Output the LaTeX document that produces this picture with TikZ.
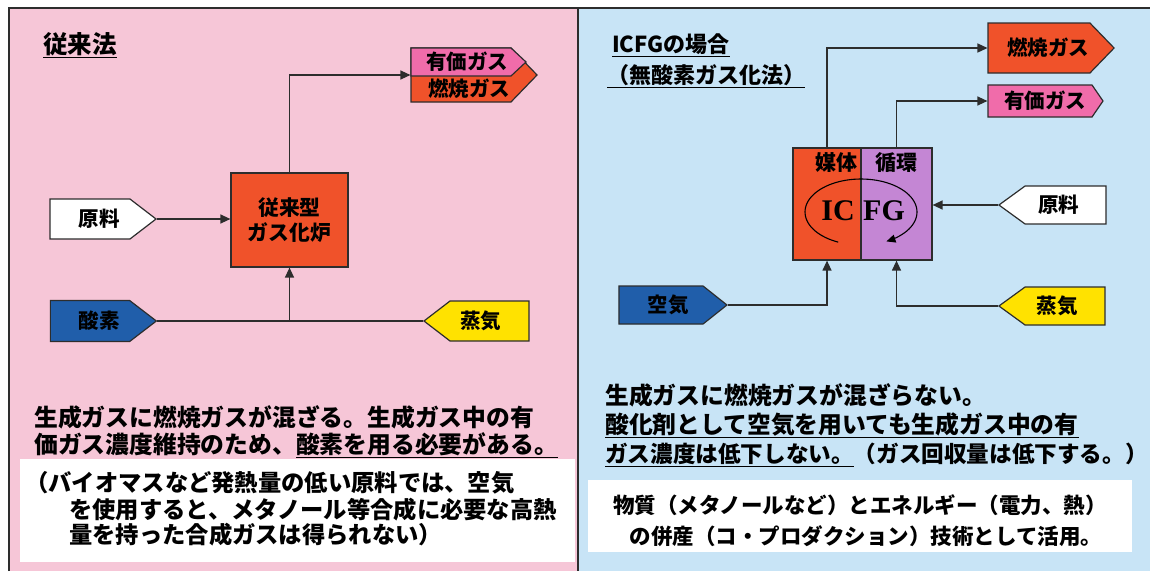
\documentclass[tikz,border=0pt]{standalone}
\usepackage{fontspec}
\newfontfamily\jp{Noto Sans CJK JP}
\newfontfamily\serifb{Liberation Serif}
\usetikzlibrary{shapes.symbols,arrows.meta}
\definecolor{pinkbg}{RGB}{246,198,215}
\definecolor{bluebg}{RGB}{200,228,246}
\definecolor{orng}{RGB}{240,82,42}
\definecolor{pnk}{RGB}{240,108,170}
\definecolor{purp}{RGB}{196,134,212}
\definecolor{blu}{RGB}{32,94,170}
\definecolor{yel}{RGB}{255,226,0}
\definecolor{linec}{RGB}{45,45,45}
\begin{document}
\begin{tikzpicture}[x=1pt,y=-1pt,
  conn/.style={draw=linec, line width=1.3pt},
  arr/.style={conn, -{Triangle[length=10pt,width=9pt]}},
  sig/.style={signal, draw=linec, line width=1.2pt, inner sep=0pt},
  lbl/.style={inner sep=0pt, text=black, font=\jp\bfseries\fontsize{20.5}{24}\selectfont},
  boxn/.style={draw=linec, line width=1.2pt, inner sep=0pt},
  txt/.style={inner sep=0pt, anchor=west, font=\jp\bfseries\fontsize{23.8}{28}\selectfont},
  ttl/.style={inner sep=0pt, anchor=west, font=\jp\bfseries\fontsize{22}{26}\selectfont},
  big/.style={inner sep=0pt, font=\serifb\bfseries\fontsize{30}{30}\selectfont}
]
\useasboundingbox (0,0) rectangle (1150,571);
% panels
\fill[pinkbg] (9,8) rectangle (578,571);
\fill[bluebg] (578,8) rectangle (1150,571);
\draw[linec, line width=1.2pt] (9,571) -- (9,8) -- (1150,8);
\draw[linec, line width=1.2pt] (578,8) -- (578,571);
\fill[white] (20,459) rectangle (575,562);
\fill[white] (588,480) rectangle (1132,552);

% ===== left panel =====
\node[ttl, font=\jp\bfseries\fontsize{24.5}{28}\selectfont] (titleL) at (43,45) {\underline{従来法}};

\node[sig, signal to=east, signal pointer angle=92, minimum width=126pt, minimum height=54pt, fill=orng] (nenshoL) at (461,75) {};
\node[sig, signal to=east, signal pointer angle=86, minimum width=115pt, minimum height=28pt, fill=pnk] (yukaL) at (461,62) {};
\node[lbl] (yukaLt) at (467,62) {有価ガス};
\node[lbl] (nenshoLt) at (469,89) {燃焼ガス};

\node[boxn, fill=orng, minimum width=117pt, minimum height=94pt, align=center,
  font=\jp\bfseries\fontsize{20.8}{25}\selectfont] (gasL) at (289.5,220) {従来型\\ガス化炉};

\node[sig, signal to=east, signal pointer angle=75, minimum width=106pt, minimum height=40pt, fill=white,
  label={[lbl,xshift=9pt]center:原料}] (genryoL) at (90,219) {};
\node[sig, signal to=east, signal pointer angle=75, minimum width=106pt, minimum height=41pt, fill=blu,
  label={[lbl,xshift=9pt]center:酸素}] (sanso) at (90,321) {};
\node[sig, signal to=west, signal pointer angle=75, minimum width=105pt, minimum height=40pt, fill=yel,
  label={[lbl,xshift=-9pt]center:蒸気}] (joukiL) at (489.5,321) {};

\draw[arr] (gasL.north) |- (nenshoL.west);
\draw[arr] (genryoL.east) -- (genryoL.east -| gasL.west);
\draw[conn] (sanso.east) -- (joukiL.west);
\draw[arr] (gasL.south |- sanso.east) -- (gasL.south);

\node[txt] (pL1) at (34,417) {生成ガスに燃焼ガスが混ざる。生成ガス中の有};
\node[txt] (pL2) at (34,445) {価ガス濃度維持のため、\underline{酸素を用る必要がある。}};
\node[txt, font=\jp\bfseries\fontsize{23.3}{28}\selectfont] (wL1) at (25,483) {（バイオマスなど発熱量の低い原料では、空気};
\node[txt, font=\jp\bfseries\fontsize{23.3}{28}\selectfont] (wL2) at (69,510) {を使用すると、メタノール等合成に必要な高熱};
\node[txt, font=\jp\bfseries\fontsize{23.3}{28}\selectfont] (wL3) at (69,535) {量を持った合成ガスは得られない）};

% ===== right panel =====
\node[ttl] (titleR1) at (612,45) {\underline{ICFGの場合}};
\node[ttl] (titleR2) at (607,76) {\underline{（無酸素ガス化法）}};

\node[sig, signal to=east, signal pointer angle=92, minimum width=126pt, minimum height=50pt, fill=orng,
  label={[lbl,xshift=9pt]center:燃焼ガス}] (nenshoR) at (1039,48) {};
\node[sig, signal to=east, signal pointer angle=111, minimum width=115pt, minimum height=32pt, fill=pnk,
  label={[lbl,xshift=5pt]center:有価ガス}] (yukaR) at (1040,101) {};

\node[boxn, fill=orng, minimum width=68pt, minimum height=112pt] (icbox) at (827,204) {};
\node[boxn, fill=purp, minimum width=71pt, minimum height=112pt] (fgbox) at (896.5,204) {};
\node[lbl, font=\jp\bfseries\fontsize{21}{24}\selectfont] (baitai) at (836,163) {媒体};
\node[lbl, font=\jp\bfseries\fontsize{21}{24}\selectfont] (junkan) at (896,163) {循環};
\node[big] (ictxt) at (838,211) {IC};
\node[big] (fgtxt) at (884,211) {FG};
\draw[line width=1.1pt, draw=black, -{Triangle[length=9pt,width=8pt]}]
  plot[domain=114:423, samples=80, variable=\t] ({861+56*cos(\t)}, {212+33*sin(\t)});

\node[sig, signal to=west, signal pointer angle=72, minimum width=107pt, minimum height=38pt, fill=white,
  label={[lbl,xshift=-7pt]center:原料}] (genryoR) at (1065.5,205) {};
\node[sig, signal to=east, signal pointer angle=77, minimum width=108pt, minimum height=38pt, fill=blu,
  label={[lbl,xshift=7pt]center:空気}] (kuki) at (661,305) {};
\node[sig, signal to=west, signal pointer angle=72, minimum width=106pt, minimum height=38pt, fill=yel,
  label={[lbl,xshift=-8pt]center:蒸気}] (joukiR) at (1065,306) {};

\draw[arr] (icbox.north) |- (nenshoR.west);
\draw[arr] (fgbox.north) |- (yukaR.west);
\draw[arr] (genryoR.west) -- (genryoR.west -| fgbox.east);
\draw[arr] (kuki.east) -| (icbox.south);
\draw[arr] (joukiR.west) -| (fgbox.south);

\node[txt] (pR1) at (605,395) {生成ガスに燃焼ガスが混ざらない。};
\node[txt] (pR2) at (605,425) {\underline{酸化剤として空気を用いても生成ガス中の有}};
\node[txt, font=\jp\bfseries\fontsize{22.6}{28}\selectfont] (pR3) at (605,455) {\underline{ガス濃度は低下しない。}（ガス回収量は低下する。）};
\node[inner sep=0pt, font=\jp\bfseries\fontsize{21.5}{26}\selectfont] (wR1) at (860,505) {物質（メタノールなど）とエネルギー（電力、熱）};
\node[inner sep=0pt, font=\jp\bfseries\fontsize{21.5}{26}\selectfont] (wR2) at (866,536) {の併産（コ・プロダクション）技術として活用。};
\end{tikzpicture}
\end{document}
